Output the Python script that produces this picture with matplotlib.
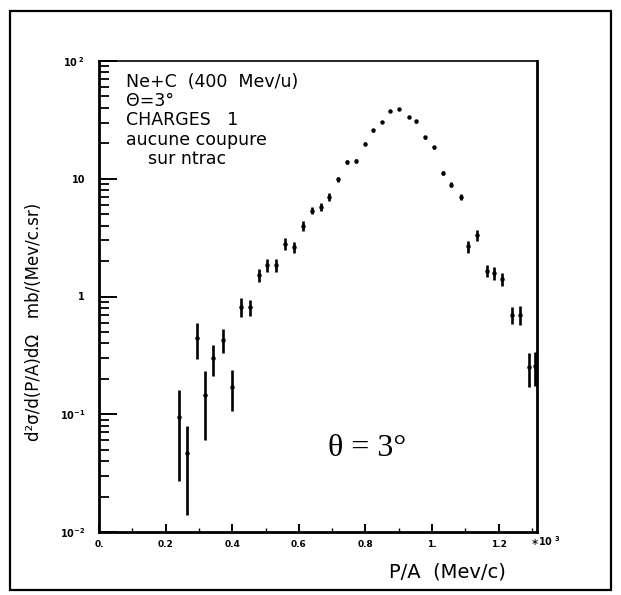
import matplotlib
matplotlib.use("Agg")
import matplotlib.pyplot as plt
from matplotlib.patches import Rectangle
from matplotlib.ticker import FixedLocator, NullFormatter, LogLocator

# Momentum per nucleon (units of 10^3 MeV/c)
p_a = [0.241, 0.265, 0.293, 0.317, 0.343, 0.373, 0.398, 0.425, 0.452, 0.479,
       0.504, 0.530, 0.557, 0.584, 0.611, 0.638, 0.666, 0.691, 0.719, 0.746,
       0.772, 0.798, 0.823, 0.850, 0.874, 0.902, 0.930, 0.953, 0.980, 1.006,
       1.033, 1.057, 1.086, 1.109, 1.136, 1.164, 1.187, 1.211, 1.239, 1.264,
       1.290, 1.310]
# Double differential cross section, mb/(MeV/c.sr)
sigma = [0.094, 0.047, 0.448, 0.146, 0.300, 0.43, 0.172, 0.82, 0.81, 1.52,
         1.86, 1.86, 2.81, 2.63, 3.98, 5.37, 5.78, 7.0, 9.9, 14.0,
         14.1, 19.9, 25.8, 30.3, 37.5, 38.9, 33.5, 30.7, 22.5, 18.5,
         11.2, 8.9, 7.0, 2.67, 3.33, 1.66, 1.58, 1.40, 0.70, 0.70,
         0.253, 0.255]
sigma_err = [0.067, 0.033, 0.153, 0.085, 0.088, 0.10, 0.066, 0.15, 0.13, 0.20,
             0.23, 0.23, 0.32, 0.30, 0.38, 0.36, 0.42, 0.50, 0.45, 0.55,
             0.55, 0.65, 0.75, 0.8, 0.9, 0.9, 0.85, 0.8, 0.7, 0.6,
             0.5, 0.4, 0.45, 0.31, 0.35, 0.20, 0.20, 0.17, 0.12, 0.13,
             0.081, 0.08]

x_ticks = [0.0, 0.2, 0.4, 0.6, 0.8, 1.0, 1.2]
x_tick_labels = ["0.", "0.2", "0.4", "0.6", "0.8", "1.", "1.2"]
y_ticks = [1e-2, 1e-1, 1, 10, 100]
y_tick_labels = [r"$\mathregular{10^{-2}}$", r"$\mathregular{10^{-1}}$", "1", "10",
                 r"$\mathregular{10^{\ 2}}$"]

info_lines = ["Ne+C  (400  Mev/u)", "Θ=3°", "CHARGES   1", "aucune coupure", "    sur ntrac"]

W, H = 621, 595
fig = plt.figure(figsize=(W / 100, H / 100), dpi=100)
fig.patch.set_facecolor("white")


def fx(px):
    return px / W


def fy(py):
    return 1 - py / H


# outer frame
fig.patches.append(Rectangle((fx(10), fy(590)), fx(611) - fx(10), fy(11) - fy(590),
                             transform=fig.transFigure, fill=False,
                             edgecolor="black", linewidth=1.6))

ax = fig.add_axes([fx(99), fy(532), fx(537) - fx(99), fy(61) - fy(532)])
ax.set_yscale("log")
ax.set_xlim(0, 1.315)
ax.set_ylim(1e-2, 1e2)

ax.errorbar(p_a, sigma, yerr=sigma_err, fmt="o", color="black", markersize=2.2,
            elinewidth=1.9, capsize=0, clip_on=False, zorder=3)

for side, lw in (("left", 2.0), ("bottom", 2.0), ("right", 2.0), ("top", 1.2)):
    ax.spines[side].set_linewidth(lw)

ax.yaxis.set_major_locator(FixedLocator(y_ticks))
ax.set_yticklabels(y_tick_labels)
ax.yaxis.set_minor_locator(LogLocator(base=10, subs=range(2, 10)))
ax.yaxis.set_minor_formatter(NullFormatter())
ax.set_xticks(x_ticks)
ax.set_xticklabels(x_tick_labels)
ax.set_xticks([0.1, 0.3, 0.5, 0.7, 0.9, 1.1, 1.3], minor=True)

ax.tick_params(axis="y", which="major", direction="in", length=13, width=1.4,
               labelsize=7, pad=10)
ax.tick_params(axis="y", which="minor", direction="in", length=7, width=1.3)
ax.tick_params(axis="x", which="major", direction="in", length=6, width=1.4,
               labelsize=6.5, pad=6)
ax.tick_params(axis="x", which="minor", direction="in", length=3, width=1.0)
for lab in ax.get_xticklabels() + ax.get_yticklabels():
    lab.set_fontweight("bold")

fig.text(fx(530), fy(541), r"$\ast\mathregular{10^{\ 3}}$", fontsize=7,
         fontweight="bold", ha="left", va="center")

fig.text(fx(34), fy(322), "d²σ/d(P/A)dΩ   mb/(Mev/c.sr)", rotation=90,
         fontsize=12, ha="center", va="center")
fig.text(fx(447), fy(572), "P/A  (Mev/c)", fontsize=14, ha="center",
         va="center")

for i, line in enumerate(info_lines):
    fig.text(fx(126), fy(82 + 19.2 * i), line, fontsize=12.5, ha="left",
             va="center")

fig.text(fx(367), fy(449), "θ = 3°", family="Liberation Serif", fontsize=23,
         ha="center", va="center")

fig.savefig("out.png", dpi=100, facecolor="white")
